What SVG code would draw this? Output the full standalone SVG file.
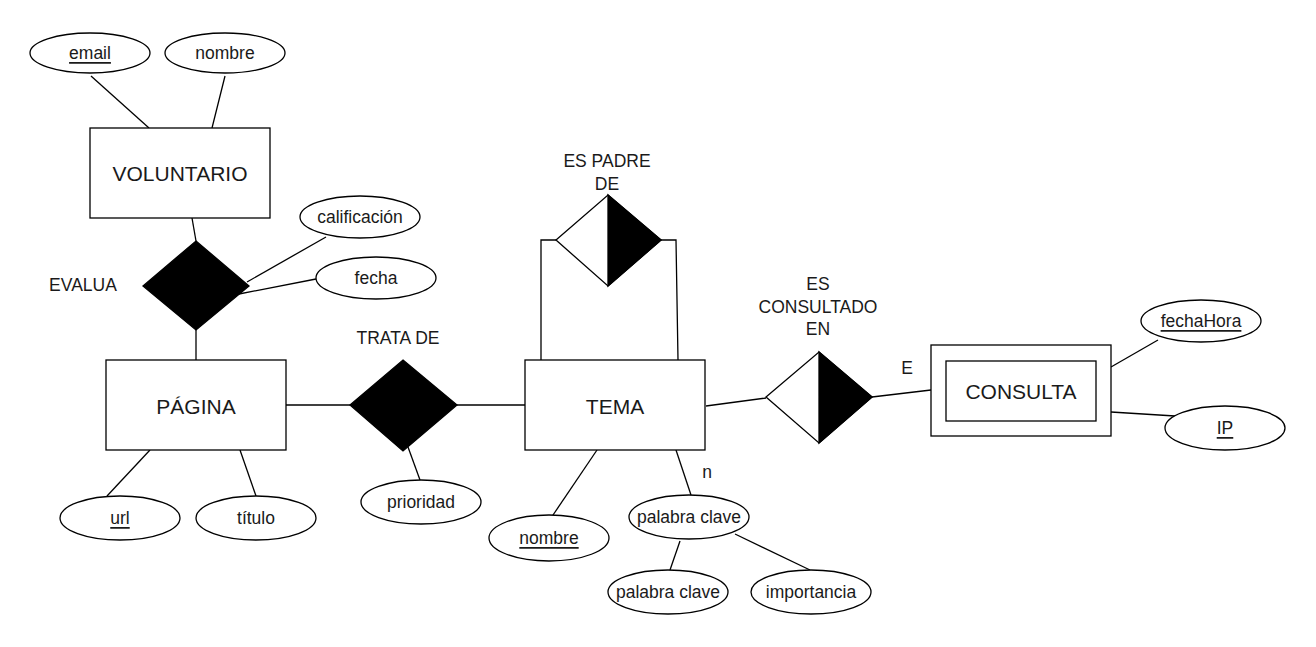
<svg xmlns="http://www.w3.org/2000/svg" width="1316" height="647" viewBox="0 0 1316 647">
<style>
.s{fill:#fff;stroke:#000;stroke-width:1.3}
.b{fill:#000;stroke:#000;stroke-width:1.3}
.l{stroke:#000;stroke-width:1.3;fill:none}
text{font-family:"Liberation Sans",Arial,sans-serif;fill:#1a1a1a;text-anchor:middle;dominant-baseline:central}
.a{font-size:17.5px}
.e{font-size:21px}
.r{font-size:17.5px}
.u{text-decoration:underline}
</style>
<rect width="1316" height="647" fill="#fff"/>
<g id="connectors">
<line class="l" x1="91" y1="76" x2="149" y2="128"/>
<line class="l" x1="225" y1="76" x2="212" y2="128"/>
<line class="l" x1="192" y1="218" x2="196" y2="241"/>
<line class="l" x1="247" y1="282" x2="326" y2="237"/>
<line class="l" x1="239" y1="294" x2="316" y2="279"/>
<line class="l" x1="196" y1="330" x2="196" y2="360"/>
<line class="l" x1="286" y1="405" x2="350" y2="405"/>
<line class="l" x1="457" y1="405" x2="525" y2="405"/>
<line class="l" x1="408" y1="447" x2="420" y2="480"/>
<line class="l" x1="150" y1="450" x2="107" y2="496"/>
<line class="l" x1="240" y1="450" x2="256" y2="496"/>
<polyline class="l" points="556,240 541,240 541,360"/>
<polyline class="l" points="661,240 676,240 678,360"/>
<line class="l" x1="597" y1="450" x2="551" y2="518"/>
<line class="l" x1="676" y1="450" x2="691" y2="495"/>
<line class="l" x1="680" y1="541" x2="670" y2="570"/>
<line class="l" x1="735" y1="534" x2="810" y2="570"/>
<line class="l" x1="706" y1="406" x2="766" y2="398"/>
<line class="l" x1="872" y1="397" x2="931" y2="390"/>
<line class="l" x1="1111" y1="367" x2="1158" y2="340"/>
<line class="l" x1="1111" y1="412" x2="1175" y2="416"/>
</g>
<g id="email"><ellipse class="s" cx="90" cy="53" rx="60" ry="20"/><text class="a u" x="90" y="53">email</text></g>
<g id="nombre-vol"><ellipse class="s" cx="225" cy="53" rx="60" ry="20"/><text class="a" x="225" y="53">nombre</text></g>
<g id="voluntario"><rect class="s" x="90" y="128" width="180" height="90"/><text class="e" x="180" y="173">VOLUNTARIO</text></g>
<g id="evalua"><polygon class="b" points="196,241 249,286 196,330 143,286"/><text class="r" x="83" y="285">EVALUA</text></g>
<g id="calificacion"><ellipse class="s" cx="360" cy="217" rx="60" ry="21"/><text class="a" x="360" y="217">calificación</text></g>
<g id="fecha"><ellipse class="s" cx="376" cy="278" rx="60" ry="21"/><text class="a" x="376" y="278">fecha</text></g>
<g id="pagina"><rect class="s" x="106" y="360" width="180" height="90"/><text class="e" x="196" y="406">PÁGINA</text></g>
<g id="url"><ellipse class="s" cx="120" cy="518" rx="60" ry="22"/><text class="a u" x="120" y="518">url</text></g>
<g id="titulo"><ellipse class="s" cx="256" cy="518" rx="60" ry="22"/><text class="a" x="256" y="518">título</text></g>
<g id="trata-de"><polygon class="b" points="403,360 457,405 403,451 350,405"/><text class="r" x="398" y="338">TRATA DE</text></g>
<g id="prioridad"><ellipse class="s" cx="421" cy="502" rx="60" ry="22"/><text class="a" x="421" y="502">prioridad</text></g>
<g id="es-padre-de"><polygon class="s" points="608,195 661,240 608,286 556,240"/><polygon class="b" points="608,195 661,240 608,286"/><text class="r" x="607" y="161">ES PADRE</text><text class="r" x="607" y="184">DE</text></g>
<g id="tema"><rect class="s" x="525" y="360" width="180" height="90"/><text class="e" x="615" y="406">TEMA</text></g>
<g id="nombre-tema"><ellipse class="s" cx="549" cy="538" rx="60" ry="23"/><text class="a u" x="549" y="538">nombre</text></g>
<g id="palabra-clave"><ellipse class="s" cx="689" cy="517" rx="60" ry="22"/><text class="a" x="689" y="517">palabra clave</text><text class="r" x="707" y="472">n</text></g>
<g id="palabra-clave-2"><ellipse class="s" cx="668" cy="592" rx="60" ry="22"/><text class="a" x="668" y="592">palabra clave</text></g>
<g id="importancia"><ellipse class="s" cx="811" cy="592" rx="60" ry="22"/><text class="a" x="811" y="592">importancia</text></g>
<g id="es-consultado-en"><polygon class="s" points="819,352 872,397 819,443 766,397"/><polygon class="b" points="819,352 872,397 819,443"/><text class="r" x="818" y="284">ES</text><text class="r" x="818" y="307">CONSULTADO</text><text class="r" x="818" y="329">EN</text><text class="r" x="907" y="368">E</text></g>
<g id="consulta"><rect class="s" x="931" y="345" width="180" height="91"/><rect class="s" x="946" y="361" width="150" height="60"/><text class="e" x="1021" y="391">CONSULTA</text></g>
<g id="fechaHora"><ellipse class="s" cx="1201" cy="321" rx="60" ry="21"/><text class="a u" x="1201" y="321">fechaHora</text></g>
<g id="ip"><ellipse class="s" cx="1225" cy="428" rx="60" ry="22"/><text class="a u" x="1225" y="428">IP</text></g>
</svg>
